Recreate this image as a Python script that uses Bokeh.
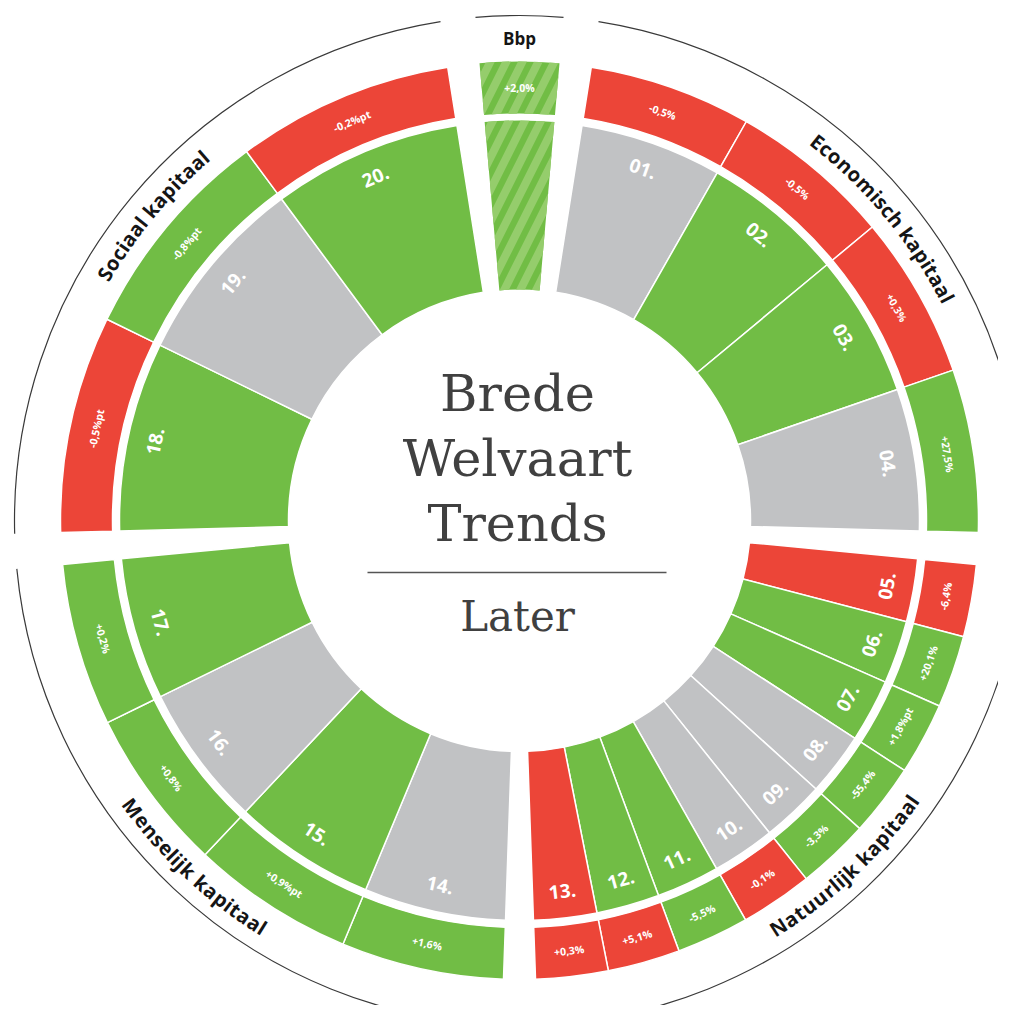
import math
from bokeh.plotting import figure
from bokeh.models import Range1d, ColumnDataSource
from bokeh.embed import file_html
from bokeh.resources import INLINE
from bokeh.core.properties import value

# ---------------- data ----------------
section_names = ["Economisch kapitaal", "Natuurlijk kapitaal", "Menselijk kapitaal", "Sociaal kapitaal"]

econ_codes = ["01.", "02.", "03.", "04."]
econ_trend = ["neutraal", "positief", "positief", "neutraal"]
econ_change = ["-0,5%", "-0,5%", "+0,3%", "+27,5%"]
econ_change_eval = ["negatief", "negatief", "negatief", "positief"]

natuur_codes = ["05.", "06.", "07.", "08.", "09.", "10.", "11.", "12.", "13."]
natuur_trend = ["negatief", "positief", "positief", "neutraal", "neutraal", "neutraal", "positief", "positief", "negatief"]
natuur_change = ["-6,4%", "+20,1%", "+1,8%pt", "-55,4%", "-3,3%", "-0,1%", "-5,5%", "+5,1%", "+0,3%"]
natuur_change_eval = ["negatief", "positief", "positief", "positief", "positief", "negatief", "positief", "negatief", "negatief"]

mens_codes = ["14.", "15.", "16.", "17."]
mens_trend = ["neutraal", "positief", "neutraal", "positief"]
mens_change = ["+1,6%", "+0,9%pt", "+0,8%", "+0,2%"]
mens_change_eval = ["positief", "positief", "positief", "positief"]

soc_codes = ["18.", "19.", "20."]
soc_trend = ["positief", "neutraal", "positief"]
soc_change = ["-0,5%pt", "-0,8%pt", "-0,2%pt"]
soc_change_eval = ["negatief", "positief", "negatief"]

bbp_label = "Bbp"
bbp_change = "+2,0%"

title_lines = ["Brede", "Welvaart", "Trends"]
subtitle = "Later"

# ---------------- styling / layout ----------------
COLORS = {"positief": "#71bd45", "neutraal": "#c1c2c4", "negatief": "#ec4538"}
HATCH = "#95cd6c"

W, H = 998, 1005
CX, CY = 519, -520
R_IN0, R_IN1 = 231, 400
R_OUT0, R_OUT1 = 407, 459
R_ARC = 505
R_NUM = 373
R_VAL = 433
R_TITLE = 482

SPAN = 82.5
section_starts = [9.0, 95.5, 182.0, 268.5]
BBP_RANGE = (-5.0, 5.0)

p = figure(width=W, height=H, x_range=Range1d(0, W), y_range=Range1d(-H, 0),
           output_backend="svg", toolbar_location=None, min_border=0,
           x_axis_type=None, y_axis_type=None)
p.grid.visible = False
p.outline_line_color = None
p.background_fill_color = "white"


def pol(r, th):
    t = math.radians(th)
    return CX + r * math.sin(t), CY + r * math.cos(t)


def txt_angle(th):
    th = th % 360
    if 90 < th < 270:
        return math.pi - math.radians(th)
    return -math.radians(th)


groups = [
    (econ_codes, econ_trend, econ_change, econ_change_eval),
    (natuur_codes, natuur_trend, natuur_change, natuur_change_eval),
    (mens_codes, mens_trend, mens_change, mens_change_eval),
    (soc_codes, soc_trend, soc_change, soc_change_eval),
]

wi = dict(sa=[], ea=[], c=[])
wo = dict(sa=[], ea=[], c=[])
num = dict(x=[], y=[], t=[], a=[])
val = dict(x=[], y=[], t=[], a=[])
arcs = dict(sa=[], ea=[])

for (codes, trend, change, ev), st in zip(groups, section_starts):
    n = len(codes)
    step = SPAN / n
    arcs["sa"].append(math.radians(90 - (st + SPAN)))
    arcs["ea"].append(math.radians(90 - st))
    for i in range(n):
        t0 = st + i * step
        t1 = t0 + step
        tm = (t0 + t1) / 2
        wi["sa"].append(math.radians(90 - t1)); wi["ea"].append(math.radians(90 - t0)); wi["c"].append(COLORS[trend[i]])
        wo["sa"].append(math.radians(90 - t1)); wo["ea"].append(math.radians(90 - t0)); wo["c"].append(COLORS[ev[i]])
        x, y = pol(R_NUM, tm)
        num["x"].append(x); num["y"].append(y); num["t"].append(codes[i]); num["a"].append(txt_angle(tm))
        x, y = pol(R_VAL, tm)
        val["x"].append(x); val["y"].append(y); val["t"].append(change[i]); val["a"].append(txt_angle(tm))

arcs["sa"].append(math.radians(90 - BBP_RANGE[1]))
arcs["ea"].append(math.radians(90 - BBP_RANGE[0]))

p.annular_wedge(x=CX, y=CY, inner_radius=R_IN0, outer_radius=R_IN1, start_angle="sa", end_angle="ea",
                fill_color="c", line_color="white", line_width=1.5, source=ColumnDataSource(wi))
p.annular_wedge(x=CX, y=CY, inner_radius=R_OUT0, outer_radius=R_OUT1, start_angle="sa", end_angle="ea",
                fill_color="c", line_color="white", line_width=1.5, source=ColumnDataSource(wo))

# Bbp hatched wedges
for r0, r1 in [(R_IN0, R_IN1), (R_OUT0, R_OUT1)]:
    p.annular_wedge(x=CX, y=CY, inner_radius=r0, outer_radius=r1,
                    start_angle=math.radians(90 - BBP_RANGE[1]), end_angle=math.radians(90 - BBP_RANGE[0]),
                    fill_color=COLORS["positief"], line_color=None,
                    hatch_pattern="/", hatch_color=HATCH, hatch_weight=8, hatch_scale=32)

# outer arcs
p.arc(x=CX, y=CY, radius=R_ARC, start_angle="sa", end_angle="ea", line_color="#3a3a3a", line_width=1.2,
      source=ColumnDataSource(arcs))

# number labels
p.text(x="x", y="y", text="t", angle="a", source=ColumnDataSource(num), text_color="white",
       text_font=value("Open Sans"), text_font_style="bold", text_font_size="19px",
       text_align="center", text_baseline="middle")
# change labels
bx, by = pol(R_VAL, 0)
val["x"].append(bx); val["y"].append(by); val["t"].append(bbp_change); val["a"].append(0.0)
p.text(x="x", y="y", text="t", angle="a", source=ColumnDataSource(val), text_color="white",
       text_font=value("Open Sans"), text_font_style="bold", text_font_size="10.5px",
       text_align="center", text_baseline="middle")

# curved section titles
CW = {"a": .60, "c": .51, "e": .59, "h": .66, "i": .30, "j": .30, "k": .62, "l": .30, "m": .98, "n": .66,
      "o": .63, "p": .64, "r": .46, "s": .50, "t": .44, "u": .66, "E": .56, "M": .97, "N": .80, "S": .55, " ": .26}
F, K = 20, 1.04
tt = dict(x=[], y=[], t=[], a=[])
for name, st in zip(section_names, section_starts):
    thc = st + SPAN / 2
    widths = [CW.get(ch, .6) * F * K for ch in name]
    total = sum(widths)
    bottom = 90 < thc < 270
    s = -total / 2
    for ch, w in zip(name, widths):
        mid = s + w / 2
        d = math.degrees(mid / R_TITLE)
        th = thc - d if bottom else thc + d
        x, y = pol(R_TITLE, th)
        tt["x"].append(x); tt["y"].append(y); tt["t"].append(ch); tt["a"].append(txt_angle(th))
        s += w
p.text(x="x", y="y", text="t", angle="a", source=ColumnDataSource(tt), text_color="#151515",
       text_font=value("Open Sans"), text_font_style="bold", text_font_size=f"{F}px",
       text_align="center", text_baseline="middle")

p.text(x=[CX], y=[-38], text=[bbp_label], text_color="#151515", text_font=value("Open Sans"),
       text_font_style="bold", text_font_size="17px", text_align="center", text_baseline="middle")

# center title
p.text(x=[517] * 3, y=[-393, -458, -523], text=title_lines, text_color="#404040",
       text_font=value("DejaVu Serif"), text_font_size="51px", text_align="center", text_baseline="middle")
p.segment(x0=[367], y0=[-572], x1=[666], y1=[-572], line_color="#555555", line_width=1.5)
p.text(x=[517], y=[-616], text=[subtitle], text_color="#404040",
       text_font=value("DejaVu Serif"), text_font_size="42px", text_align="center", text_baseline="middle")

open("out.html", "w").write(file_html(p, INLINE))
